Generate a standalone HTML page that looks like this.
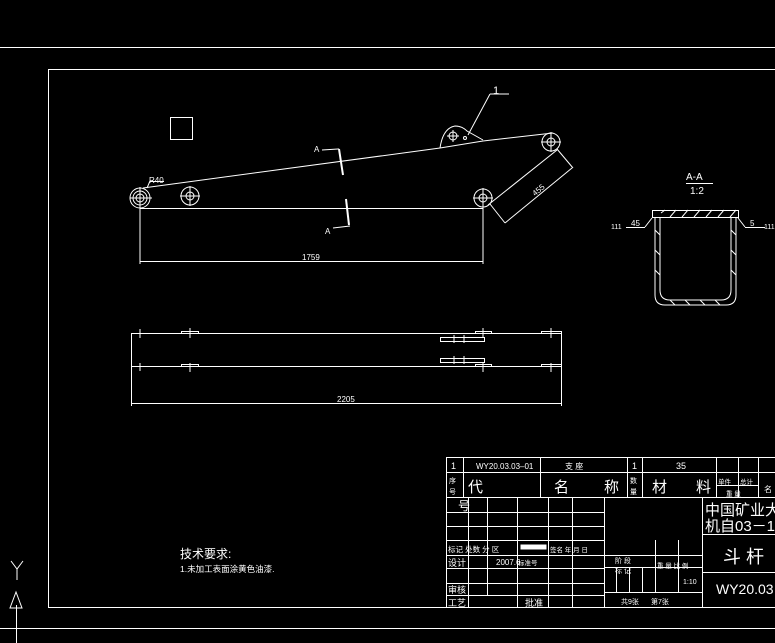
<!DOCTYPE html>
<html><head><meta charset="utf-8"><style>
html,body{margin:0;padding:0;background:#000;width:775px;height:643px;overflow:hidden}
svg{display:block}
text{fill:#fff;font-family:"Liberation Sans","Noto Sans CJK SC",sans-serif}
</style></head><body>
<svg width="775" height="643" viewBox="0 0 775 643" xmlns="http://www.w3.org/2000/svg">
<g stroke="#fff" stroke-width="1" fill="none">
<line x1="0" y1="47.5" x2="775" y2="47.5"/>
<line x1="0" y1="628.5" x2="775" y2="628.5"/>
<polyline points="775,69.5 48.5,69.5 48.5,607.5 775,607.5"/>
<line x1="16.5" y1="605" x2="16.5" y2="643"/>
<polygon points="16,592 10,608 22,608"/>
<polyline points="11,561 17,569 23,561"/><line x1="17" y1="569" x2="17" y2="580"/>
<rect x="170.5" y="117.5" width="22" height="22"/>
<!-- side view -->
<line x1="143" y1="188" x2="440" y2="148"/>
<line x1="483" y1="141" x2="553" y2="133"/>
<line x1="440" y1="148" x2="483" y2="141"/>
<path d="M440,148 Q443,128 455,126 Q462,126 467,131 L483,140"/>
<line x1="140" y1="208.5" x2="483" y2="208.5"/>
<circle cx="140" cy="198" r="10"/><circle cx="140" cy="198" r="7"/><circle cx="140" cy="198" r="4"/>
<line x1="130" y1="198" x2="152" y2="198"/><line x1="140" y1="187" x2="140" y2="208"/>
<circle cx="190" cy="196" r="9"/><circle cx="190" cy="196" r="4"/>
<line x1="180" y1="196" x2="200" y2="196"/><line x1="190" y1="186" x2="190" y2="206"/>
<circle cx="483" cy="198" r="9"/><circle cx="483" cy="198" r="4"/>
<line x1="473" y1="198" x2="493" y2="198"/><line x1="483" y1="188" x2="483" y2="208"/>
<circle cx="551" cy="142" r="9"/><circle cx="551" cy="142" r="4"/>
<line x1="541" y1="142" x2="561" y2="142"/><line x1="551" y1="132" x2="551" y2="152"/>
<circle cx="453" cy="136" r="4"/><line x1="447" y1="136" x2="459" y2="136"/><line x1="453" y1="130" x2="453" y2="142"/>
<circle cx="465" cy="138" r="1.5"/>
<line x1="140" y1="208" x2="140" y2="264"/><line x1="483" y1="208" x2="483" y2="264"/>
<line x1="140" y1="261.5" x2="483" y2="261.5"/>
<line x1="557" y1="150" x2="488" y2="205"/>
<line x1="557" y1="149" x2="573" y2="168"/><line x1="490" y1="204" x2="505" y2="223"/>
<line x1="505" y1="223" x2="572" y2="168"/>
<line x1="468" y1="135" x2="490" y2="94"/><line x1="490" y1="94" x2="509" y2="94"/>
<line x1="147" y1="188" x2="150" y2="181"/><line x1="150" y1="181.5" x2="164" y2="181.5"/>
<g stroke-width="2"><line x1="339" y1="149" x2="343" y2="175"/><line x1="346" y1="199" x2="349" y2="225"/></g>
<polyline points="322,150 338,149 339,149"/><polyline points="333,228 350,226"/>
<!-- plan -->
<line x1="131" y1="333.5" x2="561" y2="333.5"/>
<line x1="131" y1="366.5" x2="561" y2="366.5"/>
<line x1="131.5" y1="333" x2="131.5" y2="406"/><line x1="561.5" y1="333" x2="561.5" y2="406"/>
<line x1="131" y1="403.5" x2="561" y2="403.5"/>
<rect x="181.5" y="331.5" width="17" height="2"/><rect x="181.5" y="364.5" width="17" height="2"/>
<rect x="475.5" y="331.5" width="16" height="2"/><rect x="475.5" y="364.5" width="16" height="2"/>
<rect x="541.5" y="331.5" width="20" height="2"/><rect x="541.5" y="364.5" width="20" height="2"/>
<line x1="140" y1="329" x2="140" y2="338"/><line x1="140" y1="363" x2="140" y2="371"/>
<line x1="190" y1="328" x2="190" y2="338"/><line x1="190" y1="363" x2="190" y2="372"/>
<line x1="483" y1="328" x2="483" y2="338"/><line x1="483" y1="363" x2="483" y2="372"/>
<line x1="551" y1="328" x2="551" y2="338"/><line x1="551" y1="363" x2="551" y2="372"/>
<rect x="440.5" y="337.5" width="44" height="4"/><rect x="440.5" y="358.5" width="44" height="4"/>
<line x1="454" y1="335" x2="454" y2="343"/><line x1="464" y1="335" x2="464" y2="343"/>
<line x1="454" y1="356" x2="454" y2="364"/><line x1="464" y1="356" x2="464" y2="364"/>
<!-- section -->
<line x1="686" y1="183.5" x2="713" y2="183.5"/>
<rect x="652.5" y="210.5" width="86" height="7"/>
<path d="M655,217 V295 Q655,305 665,305 H726 Q736,305 736,295 V217"/>
<path d="M660,217 V290 Q660,300 670,300 H721 Q731,300 731,290 V217"/>
<path d="M661,213 l4,-3 M670,217 l6,-7 M682,217 l6,-7 M694,217 l6,-7 M706,217 l6,-7 M718,217 l6,-7 M730,217 l6,-7"/>
<path d="M655,230 l5,5 M655,250 l5,5 M655,270 l5,5 M731,230 l5,5 M731,250 l5,5 M731,270 l5,5 M670,300 l5,5 M685,300 l5,5 M700,300 l5,5 M715,300 l5,5"/>
<line x1="626" y1="227.5" x2="645" y2="227.5"/><line x1="645" y1="227" x2="652" y2="218"/>
<line x1="745" y1="227.5" x2="765" y2="227.5"/><line x1="745" y1="227" x2="738" y2="218"/>
<!-- title block -->
<rect x="446.5" y="457.5" width="340" height="150"/>
<line x1="446" y1="472.5" x2="775" y2="472.5"/>
<line x1="446" y1="497.5" x2="775" y2="497.5"/>
<line x1="463.5" y1="457" x2="463.5" y2="497"/><line x1="540.5" y1="457" x2="540.5" y2="497"/>
<line x1="627.5" y1="457" x2="627.5" y2="497"/><line x1="642.5" y1="457" x2="642.5" y2="497"/>
<line x1="716.5" y1="457" x2="716.5" y2="497"/><line x1="738.5" y1="457" x2="738.5" y2="497"/>
<line x1="758.5" y1="457" x2="758.5" y2="497"/><line x1="716" y1="485.5" x2="758" y2="485.5"/>
<g>
<line x1="446" y1="512.5" x2="604" y2="512.5"/><line x1="446" y1="526.5" x2="604" y2="526.5"/>
<line x1="446" y1="540.5" x2="604" y2="540.5"/><line x1="446" y1="555.5" x2="702" y2="555.5"/>
<line x1="446" y1="568.5" x2="604" y2="568.5"/><line x1="446" y1="583.5" x2="604" y2="583.5"/>
<line x1="446" y1="595.5" x2="604" y2="595.5"/>
<line x1="604" y1="567.5" x2="702" y2="567.5"/><line x1="604" y1="592.5" x2="702" y2="592.5"/>
<line x1="468.5" y1="497" x2="468.5" y2="608"/><line x1="487.5" y1="497" x2="487.5" y2="596"/>
<line x1="517.5" y1="497" x2="517.5" y2="608"/><line x1="548.5" y1="497" x2="548.5" y2="608"/>
<line x1="572.5" y1="497" x2="572.5" y2="608"/><line x1="604.5" y1="497" x2="604.5" y2="608"/>
<line x1="616.5" y1="567" x2="616.5" y2="592"/><line x1="629.5" y1="567" x2="629.5" y2="592"/>
<line x1="642.5" y1="567" x2="642.5" y2="592"/><line x1="655.5" y1="540" x2="655.5" y2="592"/>
<line x1="678.5" y1="540" x2="678.5" y2="592"/>
<line x1="702.5" y1="497" x2="702.5" y2="608"/>
<line x1="702" y1="534.5" x2="775" y2="534.5"/><line x1="702" y1="572.5" x2="775" y2="572.5"/>
</g>
<rect x="521" y="545" width="25" height="4" fill="#fff"/>
</g>
<text x="149" y="183" font-size="8">R40</text>
<text x="493" y="94" font-size="11">1</text>
<text x="314" y="152" font-size="8">A</text>
<text x="325" y="234" font-size="8">A</text>
<text x="302" y="260" font-size="8">1759</text>
<text x="337" y="402" font-size="8">2205</text>
<text x="532" y="196" font-size="8" transform="rotate(-40 534 192)">455</text>
<text x="686" y="180" font-size="10">A-A</text>
<text x="690" y="194" font-size="10">1:2</text>
<text x="611" y="229" font-size="7">111</text><text x="631" y="226" font-size="8">45</text>
<text x="750" y="226" font-size="8">5</text><text x="764" y="229" font-size="7">111</text>
<text x="180" y="558" font-size="12">技术要求:</text>
<text x="180" y="572" font-size="8.5">1.未加工表面涂黄色油漆.</text>
<text x="451" y="469" font-size="9">1</text>
<text x="476" y="469" font-size="8">WY20.03.03–01</text>
<text x="565" y="469" font-size="8">支 座</text>
<text x="632" y="469" font-size="9">1</text>
<text x="676" y="469" font-size="9">35</text>
<text x="449" y="483" font-size="7">序</text><text x="449" y="494" font-size="7">号</text>
<text x="468" y="492" font-size="15">代</text>
<text x="554" y="492" font-size="15">名</text><text x="604" y="492" font-size="15">称</text>
<text x="630" y="483" font-size="7">数</text><text x="630" y="494" font-size="7">量</text>
<text x="652" y="492" font-size="15">材</text><text x="696" y="492" font-size="15">料</text>
<text x="718" y="484" font-size="6.5">单件</text><text x="740" y="484" font-size="6.5">总计</text>
<text x="726" y="496" font-size="6.5">重 量</text><text x="764" y="492" font-size="8">名</text>
<text x="458" y="510" font-size="12">号</text>
<text x="448" y="552" font-size="7.5">标记 处数  分 区</text>
<text x="550" y="552" font-size="6.5">签名 年 月 日</text>
<text x="448" y="566" font-size="9">设计</text>
<text x="496" y="565" font-size="8">2007.6</text>
<text x="518" y="565" font-size="6.5">标准号</text>
<text x="448" y="593" font-size="9">审核</text>
<text x="448" y="606" font-size="9">工艺</text>
<text x="525" y="606" font-size="9">批准</text>
<text x="615" y="563" font-size="7">阶 段</text><text x="615" y="573" font-size="7">标 记</text>
<text x="657" y="568" font-size="6.5">重 量 比 例</text>
<text x="683" y="584" font-size="7">1:10</text>
<text x="621" y="604" font-size="7">共9张</text><text x="651" y="604" font-size="7">第7张</text>
<text x="705" y="515" font-size="15">中国矿业大</text>
<text x="705" y="531" font-size="15">机自03－1</text>
<text x="723" y="563" font-size="18">斗  杆</text>
<text x="716" y="594" font-size="14">WY20.03</text>
</svg>
</body></html>
